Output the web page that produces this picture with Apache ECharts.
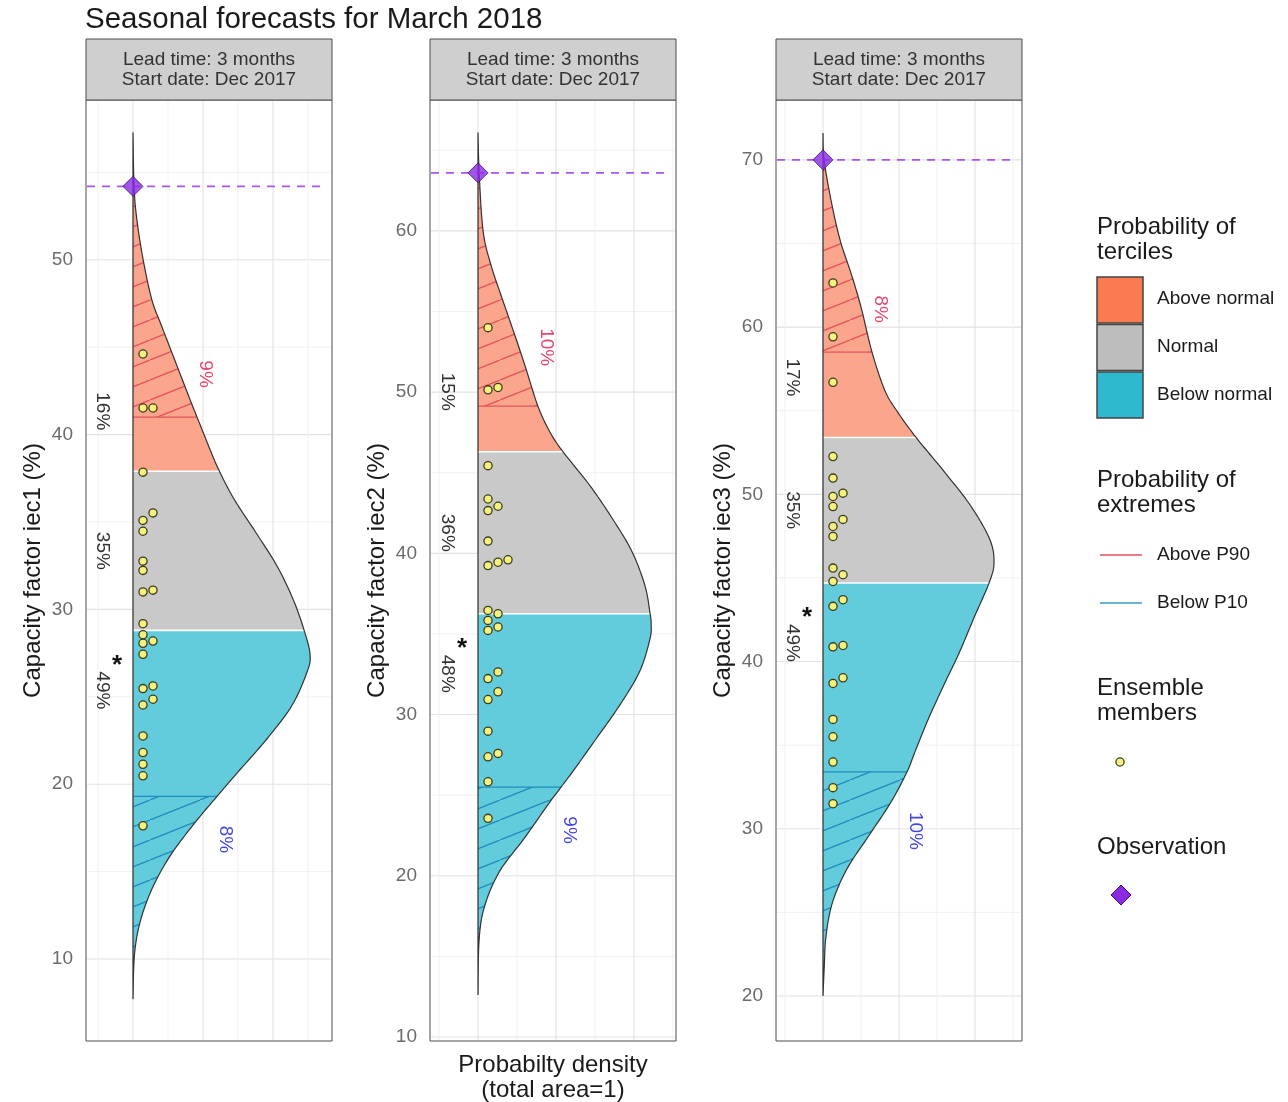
<!DOCTYPE html>
<html>
<head>
<meta charset="utf-8">
<title>Seasonal forecasts for March 2018</title>
<script src="https://cdn.jsdelivr.net/npm/echarts@6/dist/echarts.min.js"></script>
<style>
html,body{margin:0;padding:0;background:#ffffff;}
#chart{width:1288px;height:1102px;}
</style>
</head>
<body>
<div id="chart"></div>
<script>
// ================= DATA =================
const chartTitle = 'Seasonal forecasts for March 2018';
const stripLines = ['Lead time: 3 months', 'Start date: Dec 2017'];
const yAxisNames = ['Capacity factor iec1 (%)', 'Capacity factor iec2 (%)', 'Capacity factor iec3 (%)'];
const xAxisName = 'Probabilty density\n(total area=1)';

// tick labels
const yTicks1 = [10, 20, 30, 40, 50];
const yTicks2 = [10, 20, 30, 40, 50, 60];
const yTicks3 = [20, 30, 40, 50, 60, 70];
const densityTicks = [0, 0.02, 0.04];

// axis ranges
const yRange1 = [5.31, 59.14];
const yRange2 = [9.75, 68.12];
const yRange3 = [17.31, 73.58];
const xRange1 = [-0.01343, 0.05686];
const xRange2 = [-0.01231, 0.05077];
const xRange3 = [-0.01237, 0.05237];

// forecast probability density curves (value in %, density)
const curveValue1 = [7.7, 10.2, 12.1, 14.0, 15.9, 17.8, 19.3, 20.7, 22.6, 24.5, 26.4, 27.4, 28.8, 30.6, 32.5, 34.4, 36.3, 37.9, 39.1, 41.0, 42.0, 44.9, 46.3, 47.7, 50.0, 52.3, 54.2, 57.3];
const curveDensity1 = [0, 0.0004, 0.0020, 0.0054, 0.0106, 0.0177, 0.0240, 0.0300, 0.0383, 0.0454, 0.0497, 0.0506, 0.0489, 0.0457, 0.0411, 0.0351, 0.0289, 0.0247, 0.0221, 0.0183, 0.0163, 0.0107, 0.0080, 0.0054, 0.0029, 0.0011, 0.0003, 0];
const curveValue2 = [12.6, 16.1, 18.2, 20.3, 22.3, 24.4, 25.5, 26.5, 28.5, 30.6, 32.7, 34.7, 35.6, 36.3, 38.0, 40.1, 42.1, 44.2, 46.3, 47.5, 49.1, 51.6, 53.7, 55.8, 57.9, 60.0, 63.6, 66.1];
const curveDensity2 = [0, 0.0003, 0.0018, 0.0056, 0.0118, 0.0179, 0.0213, 0.0244, 0.0303, 0.0364, 0.0415, 0.0441, 0.0444, 0.0441, 0.0428, 0.0395, 0.0346, 0.0287, 0.0218, 0.0185, 0.0154, 0.0121, 0.0092, 0.0062, 0.0033, 0.0013, 0.0003, 0];
const curveValue3 = [20.0, 21.6, 23.6, 25.6, 27.6, 29.6, 31.6, 33.4, 34.6, 36.5, 38.5, 40.5, 42.6, 44.7, 45.9, 47.3, 49.3, 51.3, 53.4, 54.9, 56.2, 58.5, 61.2, 63.2, 65.2, 67.6, 70.0, 71.6];
const curveDensity3 = [0, 0.0003, 0.0008, 0.0025, 0.0063, 0.0121, 0.0179, 0.0221, 0.0242, 0.0276, 0.0316, 0.0358, 0.0397, 0.0437, 0.0450, 0.0439, 0.0389, 0.0321, 0.0245, 0.0197, 0.0163, 0.0129, 0.0100, 0.0074, 0.0045, 0.0021, 0.0003, 0];

// climatological thresholds: P10, lower tercile, upper tercile, P90
const bounds1 = [19.3, 28.8, 37.9, 41.0];
const bounds2 = [25.5, 36.25, 46.3, 49.13];
const bounds3 = [33.4, 44.7, 53.4, 58.5];

// probabilities: terciles [below, normal, above], extremes [below P10, above P90]
const tercilePct1 = [49, 35, 16];
const tercilePct2 = [48, 36, 15];
const tercilePct3 = [49, 35, 17];
const extremePct1 = [8, 9];
const extremePct2 = [9, 10];
const extremePct3 = [10, 8];

// ensemble members
const ensemble1 = [44.61, 41.52, 41.52, 37.85, 35.52, 35.09, 34.47, 32.76, 32.23, 31.1, 31.0, 29.18, 28.55, 28.19, 28.06, 27.43, 25.62, 25.47, 24.86, 24.53, 22.76, 21.81, 21.14, 20.48, 17.62];
const ensemble2 = [54.0, 50.29, 50.14, 45.44, 43.37, 42.92, 42.65, 40.76, 39.60, 39.45, 39.24, 36.46, 36.25, 35.84, 35.43, 35.22, 32.64, 32.23, 31.41, 30.93, 28.97, 27.59, 27.38, 25.83, 23.56];
const ensemble3 = [62.64, 59.42, 56.7, 52.26, 50.97, 50.07, 49.87, 49.27, 48.5, 48.08, 47.48, 45.59, 45.19, 44.79, 43.70, 43.30, 40.96, 40.88, 39.03, 38.69, 36.54, 35.50, 33.99, 32.46, 31.50];

// observations
const observed1 = 54.2;
const observed2 = 63.6;
const observed3 = 70.0;

// legend texts
const legendTercileTitle = ['Probability of', 'terciles'];
const legendTercileLabels = ['Above normal', 'Normal', 'Below normal'];
const legendExtremeTitle = ['Probability of', 'extremes'];
const legendExtremeLabels = ['Above P90', 'Below P10'];
const legendEnsembleTitle = ['Ensemble', 'members'];
const legendObsTitle = 'Observation';

// ================= STYLE / BUILD =================
const FONT = '"Liberation Sans", Arial, Helvetica, sans-serif';
const COL = {
  belowFill: '#62CCDC', normalFill: '#C9C9C9', aboveFill: '#FBA58C',
  blueHatch: '#1F8CBE', redHatch: '#E2525C',
  legAbove: '#FA7B51', legNormal: '#BDBDBD', legBelow: '#2CB9CF',
  outline: '#333333', obs: '#8A2BE2', obsLine: '#A855F7',
  dotFill: '#F4F27C', dotStroke: '#3c3c20',
  redText: '#E4476B', blueText: '#4545E6'
};

const panels = [
  { yTicks: yTicks1, yRange: yRange1, xRange: xRange1, cv: curveValue1, cd: curveDensity1, bounds: bounds1, terc: tercilePct1, ext: extremePct1, ens: ensemble1, obs: observed1 },
  { yTicks: yTicks2, yRange: yRange2, xRange: xRange2, cv: curveValue2, cd: curveDensity2, bounds: bounds2, terc: tercilePct2, ext: extremePct2, ens: ensemble2, obs: observed2 },
  { yTicks: yTicks3, yRange: yRange3, xRange: xRange3, cv: curveValue3, cd: curveDensity3, bounds: bounds3, terc: tercilePct3, ext: extremePct3, ens: ensemble3, obs: observed3 }
];
const gridLeft = [86, 430, 776];
const GRID_TOP = 100, GRID_W = 246, GRID_H = 941;

function hatchPattern(bg, line) {
  const w = 50, h = 20;
  const c = document.createElement('canvas');
  c.width = w; c.height = h;
  const g = c.getContext('2d');
  g.fillStyle = bg; g.fillRect(0, 0, w, h);
  g.strokeStyle = line; g.lineWidth = 1.3;
  [[0, 0], [-w, h], [w, -h]].forEach(function (o) {
    g.beginPath(); g.moveTo(o[0], o[1] + h); g.lineTo(o[0] + w, o[1]); g.stroke();
  });
  return { image: c, repeat: 'repeat' };
}
const redPattern = hatchPattern(COL.aboveFill, COL.redHatch);
const bluePattern = hatchPattern(COL.belowFill, COL.blueHatch);

// smooth pixel curve through the (density, value) points mapped by the axes
function denseCurve(api, p) {
  const P = p.cv.map(function (v, i) { return api.coord([p.cd[i], v]); });
  const x0 = api.coord([0, p.cv[0]])[0];
  const out = [[x0, P[0][1]]];
  const n = P.length;
  for (let i = 0; i < n - 1; i++) {
    const p0 = P[Math.max(i - 1, 0)], p1 = P[i], p2 = P[i + 1], p3 = P[Math.min(i + 2, n - 1)];
    const c1 = [p1[0] + (p2[0] - p0[0]) / 6, p1[1] + (p2[1] - p0[1]) / 6];
    const c2 = [p2[0] - (p3[0] - p1[0]) / 6, p2[1] - (p3[1] - p1[1]) / 6];
    for (let s = 1; s <= 12; s++) {
      const t = s / 12, u = 1 - t;
      const x = u * u * u * p1[0] + 3 * u * u * t * c1[0] + 3 * u * t * t * c2[0] + t * t * t * p2[0];
      const y = u * u * u * p1[1] + 3 * u * u * t * c1[1] + 3 * u * t * t * c2[1] + t * t * t * p2[1];
      out.push([Math.max(x, x0), y]);
    }
  }
  out[out.length - 1][0] = x0;
  return out;
}
function xAt(D, y) {
  for (let k = 0; k < D.length - 1; k++) {
    const a = D[k], b = D[k + 1];
    if ((a[1] - y) * (b[1] - y) <= 0) {
      const t = a[1] === b[1] ? 0 : (y - a[1]) / (b[1] - a[1]);
      return a[0] + t * (b[0] - a[0]);
    }
  }
  return D[0][0];
}

function gridData(p) {
  const out = [];
  const ys = p.yTicks[1] - p.yTicks[0];
  p.yTicks.forEach(function (t) { out.push([t, 1, 0]); });
  [p.yTicks[0] - ys / 2].concat(p.yTicks.map(function (t) { return t + ys / 2; })).forEach(function (t) {
    if (t > p.yRange[0] && t < p.yRange[1]) out.push([t, 1, 1]);
  });
  const xs = densityTicks[1] - densityTicks[0];
  densityTicks.forEach(function (t) { if (t > p.xRange[0] && t < p.xRange[1]) out.push([t, 0, 0]); });
  [densityTicks[0] - xs / 2].concat(densityTicks.map(function (t) { return t + xs / 2; })).forEach(function (t) {
    if (t > p.xRange[0] && t < p.xRange[1]) out.push([t, 0, 1]);
  });
  return out;
}

const series = [];
panels.forEach(function (p, pi) {
  const ax = { xAxisIndex: pi, yAxisIndex: pi, silent: true, animation: false };
  // grid lines
  series.push(Object.assign({
    type: 'custom', z: 1, data: gridData(p),
    renderItem: function (params, api) {
      const cs = params.coordSys;
      const v = api.value(0), dir = api.value(1), minor = api.value(2);
      const st = { stroke: minor ? '#efefef' : '#e2e2e2', lineWidth: minor ? 0.9 : 1.1 };
      if (dir === 1) {
        const y = api.coord([0, v])[1];
        return { type: 'line', shape: { x1: cs.x + 1, y1: y, x2: cs.x + cs.width - 1, y2: y }, style: st };
      }
      const x = api.coord([v, p.yTicks[0]])[0];
      return { type: 'line', shape: { x1: x, y1: cs.y + 1, x2: x, y2: cs.y + cs.height - 1 }, style: st };
    }
  }, ax));
  // tercile / extreme regions
  const b = p.bounds;
  const cvLast = p.cv[p.cv.length - 1];
  const regionData = [[p.cv[0], b[0], 0], [b[0], b[1], 1], [b[1], b[2], 2], [b[2], b[3], 3], [b[3], cvLast, 4]];
  series.push(Object.assign({
    type: 'custom', z: 2, data: regionData,
    renderItem: function (params, api) {
      const D = denseCurve(api, p);
      const x0 = api.coord([0, p.cv[0]])[0];
      const yLo = api.coord([0, api.value(0)])[1];
      const yHi = api.coord([0, api.value(1)])[1];
      const kind = api.value(2);
      const pts = [[x0, yLo], [xAt(D, yLo), yLo]];
      D.forEach(function (q) { if (q[1] < yLo && q[1] > yHi) pts.push(q); });
      pts.push([xAt(D, yHi), yHi], [x0, yHi]);
      const fills = [bluePattern, COL.belowFill, COL.normalFill, COL.aboveFill, redPattern];
      return { type: 'polygon', shape: { points: pts }, style: { fill: fills[kind], stroke: 'none' } };
    }
  }, ax));
  // threshold lines inside the density
  series.push(Object.assign({
    type: 'custom', z: 3, data: b.map(function (v, i) { return [v, i]; }),
    renderItem: function (params, api) {
      const D = denseCurve(api, p);
      const x0 = api.coord([0, p.cv[0]])[0];
      const y = api.coord([0, api.value(0)])[1];
      const k = api.value(1);
      const strokes = [COL.blueHatch, '#ffffff', '#ffffff', COL.redHatch];
      return { type: 'line', shape: { x1: x0, y1: y, x2: xAt(D, y), y2: y }, style: { stroke: strokes[k], lineWidth: k === 1 || k === 2 ? 1.6 : 1.3 } };
    }
  }, ax));
  // outline
  series.push(Object.assign({
    type: 'custom', z: 4, data: [[0]],
    renderItem: function (params, api) {
      const D = denseCurve(api, p);
      return { type: 'polygon', shape: { points: D }, style: { fill: 'none', stroke: COL.outline, lineWidth: 1.2 } };
    }
  }, ax));
  // percentage labels
  const labelData = [[0, p.terc[0]], [1, p.terc[1]], [2, p.terc[2]], [3, p.ext[0]], [4, p.ext[1]]];
  const maxTerc = Math.max.apply(null, p.terc);
  series.push(Object.assign({
    type: 'custom', z: 5, data: labelData,
    renderItem: function (params, api) {
      const D = denseCurve(api, p);
      const x0 = api.coord([0, p.cv[0]])[0];
      const yy = b.map(function (v) { return api.coord([0, v])[1]; });
      const kind = api.value(0), pct = api.value(1);
      const txt = pct + '%';
      let x, y, color = '#333333';
      if (kind === 0) { x = x0 - 31; y = yy[1] + 60; }
      else if (kind === 1) { x = x0 - 31; y = (yy[1] + yy[2]) / 2; }
      else if (kind === 2) { x = x0 - 31; y = yy[2] - 60; }
      else if (kind === 3) { x = xAt(D, yy[0]) + 8; y = yy[0] + 11 + 16 * txt.length; color = COL.blueText; }
      else { x = xAt(D, yy[3]) + 8; y = yy[3] - 11 - 16 * txt.length; color = COL.redText; }
      const els = [{
        type: 'text', x: x, y: y, rotation: -Math.PI / 2,
        style: { text: txt, fill: color, font: '19px ' + FONT, align: 'center', verticalAlign: 'middle', textAlign: 'center', textVerticalAlign: 'middle' }
      }];
      if (kind <= 2 && pct === maxTerc) {
        els.push({
          type: 'text', x: x + 15, y: y - 25,
          style: { text: '*', fill: '#111111', font: 'bold 26px ' + FONT, align: 'center', verticalAlign: 'middle', textAlign: 'center', textVerticalAlign: 'middle' }
        });
      }
      return { type: 'group', children: els };
    }
  }, ax));
  // ensemble members (dodged horizontally when overlapping)
  series.push(Object.assign({
    type: 'custom', z: 6, data: p.ens.map(function (v) { return [v]; }),
    renderItem: function (params, api) {
      const x0 = api.coord([0, p.cv[0]])[0];
      const order = p.ens.map(function (v, i) { return i; }).sort(function (a, c) { return p.ens[a] - p.ens[c]; });
      const colsPy = [], col = [];
      order.forEach(function (i) {
        const y = api.coord([0, p.ens[i]])[1];
        let c = 0;
        while (colsPy[c] && colsPy[c].some(function (q) { return Math.abs(q - y) < 8.3; })) c++;
        (colsPy[c] = colsPy[c] || []).push(y);
        col[i] = c;
      });
      const pt = api.coord([0, api.value(0)]);
      const c = col[params.dataIndex];
      return { type: 'circle', shape: { cx: x0 + 10 + 10 * c, cy: pt[1], r: 4.1 }, style: { fill: COL.dotFill, stroke: COL.dotStroke, lineWidth: 1.3 } };
    }
  }, ax));
  // observation dashed line
  series.push(Object.assign({
    type: 'custom', z: 7, data: [[p.obs]],
    renderItem: function (params, api) {
      const cs = params.coordSys;
      const y = api.coord([0, api.value(0)])[1];
      return { type: 'line', shape: { x1: cs.x + 1, y1: y, x2: cs.x + cs.width - 6, y2: y }, style: { stroke: COL.obsLine, lineWidth: 1.6, lineDash: [8, 7] } };
    }
  }, ax));
  // observation marker
  series.push(Object.assign({
    type: 'scatter', z: 8, data: [[0, p.obs]], symbol: 'diamond', symbolSize: 20,
    itemStyle: { color: COL.obs, borderColor: '#3a1470', borderWidth: 1 }
  }, ax));
});

// strips + legend graphics
const graphics = [];
gridLeft.forEach(function (l) {
  graphics.push({ type: 'rect', shape: { x: l, y: 39, width: GRID_W, height: 61 }, style: { fill: '#CFCFCF', stroke: '#4d4d4d', lineWidth: 1 } });
  stripLines.forEach(function (t, i) {
    graphics.push({ type: 'text', x: l + GRID_W / 2, y: 60 + i * 20, style: { text: t, font: '19px ' + FONT, fill: '#333333', align: 'center', verticalAlign: 'middle', textAlign: 'center', textVerticalAlign: 'middle' } });
  });
});
function legText(t, x, y, size) {
  return { type: 'text', x: x, y: y, style: { text: t, font: size + 'px ' + FONT, fill: '#1a1a1a', align: 'left', verticalAlign: 'middle', textAlign: 'left', textVerticalAlign: 'middle' } };
}
legendTercileTitle.forEach(function (t, i) { graphics.push(legText(t, 1097, 227 + 25 * i, 24)); });
const swFill = [COL.legAbove, COL.legNormal, COL.legBelow];
legendTercileLabels.forEach(function (t, i) {
  graphics.push({ type: 'rect', shape: { x: 1097, y: 277 + 47.5 * i, width: 46, height: 46 }, style: { fill: swFill[i], stroke: '#444444', lineWidth: 1.5 } });
  graphics.push(legText(t, 1157, 299 + 48 * i, 19));
});
legendExtremeTitle.forEach(function (t, i) { graphics.push(legText(t, 1097, 480 + 25 * i, 24)); });
const extCols = ['#EC7C8C', '#6AB6D2'];
legendExtremeLabels.forEach(function (t, i) {
  graphics.push({ type: 'line', shape: { x1: 1100, y1: 555 + 48 * i, x2: 1142, y2: 555 + 48 * i }, style: { stroke: extCols[i], lineWidth: 2 } });
  graphics.push(legText(t, 1157, 555 + 48 * i, 19));
});
legendEnsembleTitle.forEach(function (t, i) { graphics.push(legText(t, 1097, 688 + 25 * i, 24)); });
graphics.push({ type: 'circle', shape: { cx: 1120, cy: 762, r: 4.1 }, style: { fill: COL.dotFill, stroke: COL.dotStroke, lineWidth: 1.3 } });
graphics.push(legText(legendObsTitle, 1097, 847, 24));
graphics.push({ type: 'polygon', shape: { points: [[1121, 885], [1131, 895], [1121, 905], [1111, 895]] }, style: { fill: COL.obs, stroke: '#3a1470', lineWidth: 1 } });

const option = {
  animation: false,
  backgroundColor: '#ffffff',
  textStyle: { fontFamily: FONT },
  title: { text: chartTitle, left: 85, top: 5, padding: 0, textStyle: { fontSize: 29.5, fontWeight: 'normal', color: '#1a1a1a', fontFamily: FONT } },
  grid: panels.map(function (p, i) {
    return { left: gridLeft[i], top: GRID_TOP, width: GRID_W, height: GRID_H, show: true, borderColor: '#4d4d4d', borderWidth: 1, backgroundColor: 'transparent', containLabel: false, outerBoundsMode: 'none' };
  }),
  xAxis: panels.map(function (p, i) {
    return {
      gridIndex: i, type: 'value', min: p.xRange[0], max: p.xRange[1],
      axisLine: { show: false }, axisTick: { show: false }, axisLabel: { show: false }, splitLine: { show: false },
      name: i === 1 ? xAxisName : '', nameLocation: 'middle', nameGap: 12,
      nameTextStyle: { fontSize: 24, color: '#1a1a1a', lineHeight: 25, fontFamily: FONT }
    };
  }),
  yAxis: panels.map(function (p, i) {
    return {
      gridIndex: i, type: 'value', min: p.yRange[0], max: p.yRange[1],
      axisLine: { show: false }, axisTick: { show: false }, splitLine: { show: false },
      axisLabel: { customValues: p.yTicks, fontSize: 19, color: '#6b6b6b', margin: 13, fontFamily: FONT },
      name: yAxisNames[i], nameLocation: 'middle', nameGap: 41,
      nameTextStyle: { fontSize: 24, color: '#1a1a1a', fontFamily: FONT }
    };
  }),
  graphic: { elements: graphics },
  series: series
};

const chart = echarts.init(document.getElementById('chart'), null, { renderer: 'canvas', width: 1288, height: 1102 });
chart.setOption(option);
</script>
</body>
</html>
